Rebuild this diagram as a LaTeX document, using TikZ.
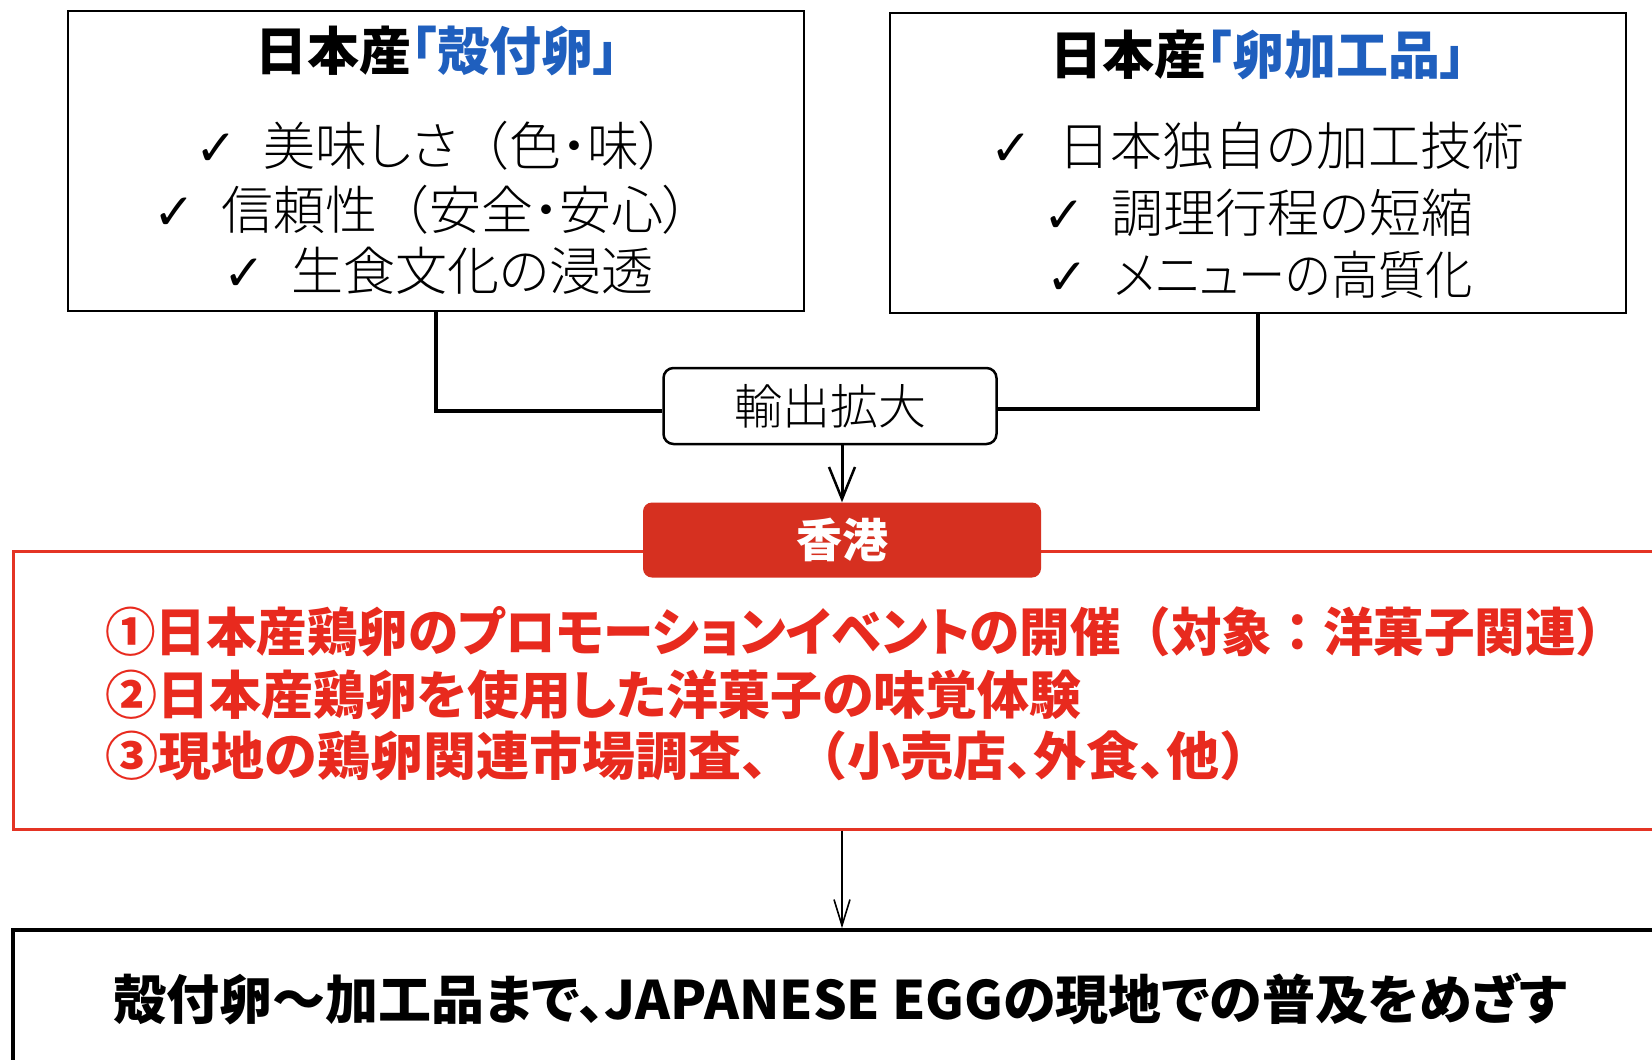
\documentclass[tikz,border=0pt]{standalone}
\usepackage{fontspec}
\newfontfamily\jp{Noto Sans CJK JP}
\newfontfamily\jpp{Noto Sans CJK JP}[RawFeature=+palt]
\newfontfamily\jpl{Noto Sans CJK JP Light}[RawFeature=+palt]
\newfontfamily\djv{DejaVu Sans}
\usetikzlibrary{arrows.meta}
\definecolor{eggblue}{RGB}{31,95,190}
\definecolor{eggred}{RGB}{232,42,30}
\definecolor{hkred}{RGB}{214,48,32}
\definecolor{boxred}{RGB}{228,52,36}
\tikzset{
  mainbox/.style={draw=black, line width=2.5pt, minimum width=736pt, minimum height=300pt, inner sep=0pt},
  titletext/.style={font=\jpp\bfseries\fontsize{52}{52}\selectfont, inner sep=0pt},
  bullettext/.style={font=\jpl\fontsize{52}{52}\selectfont, inner sep=0pt, anchor=west},
  redtext/.style={font=\jpp\bfseries\fontsize{52}{52}\selectfont, text=eggred, anchor=west, inner sep=0pt},
  conn/.style={line width=3.5pt, draw=black},
}
\newcommand{\chk}{{\djv\fontsize{50}{50}\selectfont ✓}\hspace{0.5em}}
\newcommand{\fw}[1]{{\jp #1}}
\newcommand{\pw}[1]{{\jpp #1}}
\begin{document}
\begin{tikzpicture}[x=1pt,y=-1pt]
\useasboundingbox (0,0) rectangle (1652,1060);
\fill[white] (0,0) rectangle (1652,1060);
\clip (0,0) rectangle (1652,1060);

% top boxes
\node[mainbox] (L) at (436,161) {};
\node[mainbox] (R) at (1258,163) {};
\node[titletext] (Lt) at (437,51) {日本産{\color{eggblue}「殻付卵」}};
\node[titletext] (Rt) at (1258,55) {日本産{\color{eggblue}「卵加工品」}};
\node[bullettext] (L1) at (195,146) {\chk 美味しさ{\jpl\addfontfeature{RawFeature=-palt}（}色・味）};
\node[bullettext] (L2) at (153,210) {\chk 信頼性{\jpl\addfontfeature{RawFeature=-palt}（}安全・安心）};
\node[bullettext] (L3) at (223,271) {\chk 生食文化の浸透};
\node[bullettext] (R1) at (990,146) {\chk 日本独自の加工技術};
\node[bullettext] (R2) at (1043,213) {\chk 調理行程の短縮};
\node[bullettext] (R3) at (1046,275) {\chk \scalebox{0.91}[1]{メニューの高質化}};

% export box
\node[draw=black, line width=2.5pt, rounded corners=10pt, minimum width=333pt, minimum height=76pt,
      font=\jpl\fontsize{48}{48}\selectfont, fill=white] (E) at (830,406) {輸出拡大};
\draw[conn] (L.south) |- ([yshift=-5pt]E.west);
\draw[conn] (R.south) |- ([yshift=-3pt]E.east);

% red box
\node[draw=boxred, line width=3pt, minimum width=1700pt, minimum height=278pt, inner sep=0pt] (RB) at (863,690) {};
\node[fill=hkred, rounded corners=9pt, minimum width=398pt, minimum height=75pt, inner sep=0pt,
      text=white, font=\jp\bfseries\fontsize{46}{46}\selectfont] (HK) at (842,540) {香港};
\draw[line width=3pt, -{Straight Barb[length=32pt,width=26pt,line width=2.5pt]}] (E.south -| HK.north) -- (HK.north);

\node[redtext, xscale=0.972] (T1) at (105,632) {①日本産鶏卵のプロモーションイベントの開催\fw{（}対象\fw{：}洋菓子関連\fw{）}};
\node[redtext] (T2) at (105,695) {②日本産鶏卵を使用した洋菓子の味覚体験};
\node[redtext, font=\jp\bfseries\fontsize{52}{52}\selectfont, xscale=1.02] (T3) at (105,756) {③現地の鶏卵関連市場調査、（小売店\pw{、}外食\pw{、}他）};

% bottom box
\node[draw=black, line width=3.5pt, minimum width=1700pt, minimum height=170pt, inner sep=0pt] (BB) at (863,1015) {};
\draw[line width=1.6pt, -{Straight Barb[length=26pt,width=16pt,line width=1.6pt]}] (HK.south |- RB.south) -- (HK.south |- BB.north);
\node[font=\jpp\bfseries\fontsize{53}{53}\selectfont, inner sep=0pt] (BT) at (840,999) {殻付卵～加工品まで、JAPANESE EGGの現地での普及をめざす};
\end{tikzpicture}
\end{document}
